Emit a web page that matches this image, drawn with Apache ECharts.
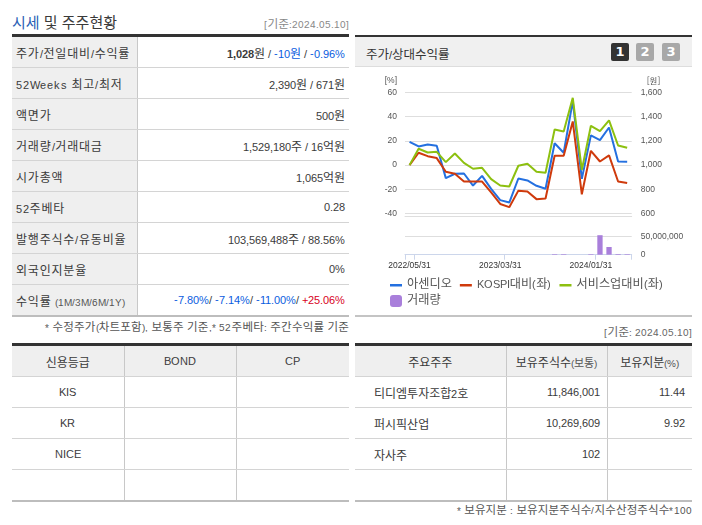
<!DOCTYPE html>
<html lang="ko"><head><meta charset="utf-8">
<script src="https://cdn.jsdelivr.net/npm/echarts@6/dist/echarts.min.js"></script>
<style>
@font-face{font-family:"LT";src:local("Liberation Sans");size-adjust:88%;unicode-range:U+20-7F}
@font-face{font-family:"LT";font-weight:bold;src:local("Liberation Sans Bold");size-adjust:88%;unicode-range:U+20-7F}
html,body{margin:0;padding:0;background:#fff;width:702px;height:525px;overflow:hidden}
body{font-family:"LT","Noto Sans CJK KR",sans-serif;font-size:12px;color:#3a3a3a;position:relative}
.abs{position:absolute;white-space:nowrap}
table{position:absolute;border-collapse:collapse;table-layout:fixed;border-top:3px solid #333;border-bottom:2px solid #bdbdbd}
td,th{height:30px;padding:0;border-bottom:1px solid #d4d4d4;font-weight:normal;overflow:hidden;white-space:nowrap;box-sizing:content-box}
tr:last-child td{border-bottom:none}
th,.lab{background:#efefef}
.lab{letter-spacing:.8px}
.v{border-left:1px solid #c8c8c8}
.blue{color:#0a5ce0}.red{color:#d8001c}
.small{font-size:11px;color:#555;letter-spacing:0}
.btn{position:absolute;top:43px;width:18px;height:18px;border-radius:2px;background:#a8a8a8;color:#fff;font:bold 13px/18px "DejaVu Sans";text-align:center}
</style></head><body>
<div class="abs" style="left:12px;top:11px;font-size:15px;font-family:'Noto Sans CJK KR'"><span style="color:#2a5fb5">시세</span> 및 주주현황</div>
<div class="abs" style="right:353px;top:14px;font-size:11.7px;color:#888">[기준:2024.05.10]</div>
<table id="t1" style="left:12px;top:34px;width:337px"></table>
<div class="abs" style="right:353px;top:318px;font-size:11.5px;letter-spacing:.2px;color:#555">* 수정주가(차트포함), 보통주 기준,* 52주베타: 주간수익률 기준</div>
<table id="t2" style="left:12px;top:343px;width:337px"></table>
<div style="position:absolute;left:355px;top:35px;width:337px;height:32px;background:#f0f0f0;border-top:2px solid #333;border-bottom:1px solid #ddd;box-sizing:border-box"></div>
<div class="abs" style="left:366px;top:44px;font-size:12.5px;color:#333">주가/상대수익률</div>
<div class="btn" style="left:611px;background:#333">1</div><div class="btn" style="left:636px">2</div><div class="btn" style="left:662px">3</div>
<div id="c" style="position:absolute;left:355px;top:68px;width:337px;height:247px"></div>
<div style="position:absolute;left:355px;top:315px;width:337px;height:2px;background:#c4c4c4"></div>
<div class="abs" style="right:10px;top:322px;font-size:11.7px;color:#666">[기준: 2024.05.10]</div>
<table id="t3" style="left:355px;top:343px;width:337px"></table>
<div class="abs" style="right:10px;top:501px;font-size:11.5px;letter-spacing:.13px;color:#555">* 보유지분 : 보유지분주식수/지수산정주식수*100</div>
<script>
// ---- chart data ----
const dates=["2022/05/31","2022/06/30","2022/07/31","2022/08/31","2022/09/30","2022/10/31","2022/11/30","2022/12/31","2023/01/31","2023/02/28","2023/03/31","2023/04/30","2023/05/31","2023/06/30","2023/07/31","2023/08/31","2023/09/30","2023/10/31","2023/11/30","2023/12/31","2024/01/31","2024/02/29","2024/03/31","2024/04/30","2024/05/31"];
const price=[1192,1154,1170,1160,893,929,931,832,912,805,712,692,890,874,830,805,1180,1102,1527,887,1245,1206,1310,1030,1028];
const kospiRel=[0,10.2,7.4,5.8,-5.5,-7.1,-13.5,-13.5,-13.5,-22.5,-32,-34.6,-21,-21.7,-28,-27.5,7.7,7.7,36,-24,11.8,3,8,-13.5,-14.8];
const serviceRel=[0,13.5,10.4,11,2.5,9.6,1.9,-3,-2.2,-11.5,-16.8,-17.6,-0.5,1.1,-5.5,-6.3,29.4,27.7,55.5,-4,32.4,28,36.8,16.2,14.3];
const volume=[0,0,0,0,0,0,0,0,0,0,0,0,0,0,0,0,1500000,1500000,0,0,1500000,53000000,21000000,1800000,1529180];
const leftTicks=[-40,60,20], rightTicks=[600,1600,200];
// ---- table data ----
const summaryRows=[
["주가/전일대비/수익률",'<b>1,028</b>원 / <span class="blue">-10원</span> / <span class="blue">-0.96%</span>'],
["52Weeks 최고/최저","2,390원 / 671원"],
["액면가","500원"],
["거래량/거래대금","1,529,180주 / 16억원"],
["시가총액","1,065억원"],
["52주베타","0.28"],
["발행주식수/유동비율","103,569,488주 / 88.56%"],
["외국인지분율","0%"],
['수익률 <span class="small">(1M/3M/6M/1Y)</span>','<span class="blue">-7.80%</span>/ <span class="blue">-7.14%</span>/ <span class="blue">-11.00%</span>/ <span class="red">+25.06%</span>']];
const creditHead=["신용등급","BOND","CP"];
const creditRows=[["KIS","",""],["KR","",""],["NICE","",""],["","",""]];
const holderHead=["주요주주",'보유주식수<span class="small">(보통)</span>','보유지분<span class="small">(%)</span>'];
const holderRows=[["티디엠투자조합2호","11,846,001","11.44"],["퍼시픽산업","10,269,609","9.92"],["자사주","102",""],["","",""]];

document.getElementById('t1').innerHTML='<colgroup><col style="width:125px"><col></colgroup>'+summaryRows.map(r=>
 `<tr><td class="lab" style="padding-left:4px;width:121px">${r[0]}</td><td class="v" style="text-align:right;padding-right:4px">${r[1]}</td></tr>`).join('');
document.getElementById('t2').innerHTML='<colgroup><col style="width:112px"><col style="width:112px"><col></colgroup>'+
 '<tr>'+creditHead.map((h,i)=>`<th class="${i?'v':''}">${h}</th>`).join('')+'</tr>'+
 creditRows.map(r=>'<tr>'+r.map((c,i)=>`<td class="${i?'v':''}" style="text-align:center">${c}</td>`).join('')+'</tr>').join('');
document.getElementById('t3').innerHTML='<colgroup><col style="width:151px"><col style="width:101px"><col></colgroup>'+
 '<tr>'+holderHead.map((h,i)=>`<th class="${i?'v':''}">${h}</th>`).join('')+'</tr>'+
 holderRows.map(r=>'<tr>'+r.map((c,i)=>`<td class="${i?'v':''}" style="text-align:${i?'right':'left'};padding:0 ${i?'7px':'0'} 0 ${i?'0':'19px'}">${c}</td>`).join('')+'</tr>').join('');

const gridCol='#dedede', axisCol='#ccd6eb', labCol='#555', narrow='Liberation Sans';
const lab={color:labCol,fontFamily:narrow,fontSize:8.5};
const chart=echarts.init(document.getElementById('c'),null,{renderer:'canvas'});
const commas=v=>String(v).replace(/\B(?=(\d{3})+$)/g,',');
const lineIcon='path://M0 0L0.01 0Z M0 5L12 5L12 7.4L0 7.4Z M0 12L0.01 12Z';
const leg={padding:0,itemWidth:12,itemHeight:12,itemGap:8,textStyle:{fontFamily:'LT, "Noto Sans CJK KR"',fontSize:12.2,color:'#555'}};
function draw(){chart.setOption({
 animation:false,
 grid:[{left:50,right:60.3,top:24.3,height:121.4},{left:50,right:60.3,top:166.46,height:20.24}],
 legend:[
  {...leg,left:35,top:211,data:[{name:'아센디오',icon:lineIcon},{name:'KOSPI대비(좌)',icon:lineIcon},{name:'서비스업대비(좌)',icon:lineIcon}]},
  {...leg,left:35,top:227,data:[{name:'거래량',icon:'roundRect'}]}],
 xAxis:[
  {type:'category',gridIndex:0,data:dates,offset:2.3,axisLine:{onZero:false,lineStyle:{color:gridCol}},axisTick:{show:false},axisLabel:{show:false}},
  {type:'category',gridIndex:1,data:dates,axisLine:{onZero:false,lineStyle:{color:axisCol}},
   axisTick:{show:true,length:5,lineStyle:{color:axisCol},interval:i=>i===0||i%10===1},
   axisLabel:{...lab,color:'#333',margin:6,interval:i=>i%10===0}}],
 yAxis:[
  {type:'value',gridIndex:0,min:leftTicks[0],max:leftTicks[1],interval:leftTicks[2],name:'[%]',nameLocation:'end',nameGap:7,
   nameTextStyle:{...lab,align:'right',padding:[0,8,0,0]},axisLine:{show:false},axisTick:{show:false},axisLabel:{...lab,margin:8,padding:[2,0,0,0]},splitLine:{lineStyle:{color:gridCol}}},
  {type:'value',gridIndex:0,position:'right',min:rightTicks[0],max:rightTicks[1],interval:rightTicks[2],name:'[원]',nameLocation:'end',nameGap:7,
   nameTextStyle:{...lab,fontFamily:'"Noto Sans CJK KR"',align:'left',padding:[0,0,0,15]},axisLine:{show:false},axisTick:{show:false},axisLabel:{...lab,margin:9,padding:[2,0,0,0],formatter:commas},splitLine:{show:false}},
  {type:'value',gridIndex:1,position:'right',min:0,max:55000000,interval:50000000,axisLine:{show:false},axisTick:{show:false},
   axisLabel:{...lab,margin:9,padding:[2,0,0,0],showMaxLabel:false,formatter:commas},splitLine:{showMaxLine:false,lineStyle:{color:gridCol}}}],
 series:[
  {name:'아센디오',type:'line',xAxisIndex:0,yAxisIndex:1,data:price,symbol:'none',lineStyle:{width:2,color:'#2470e0'},itemStyle:{color:'#2470e0'}},
  {name:'KOSPI대비(좌)',type:'line',xAxisIndex:0,yAxisIndex:0,data:kospiRel,symbol:'none',lineStyle:{width:2,color:'#cf3a0c'},itemStyle:{color:'#cf3a0c'}},
  {name:'서비스업대비(좌)',type:'line',xAxisIndex:0,yAxisIndex:0,data:serviceRel,symbol:'none',lineStyle:{width:2,color:'#8dc010'},itemStyle:{color:'#8dc010'}},
  {name:'거래량',type:'bar',xAxisIndex:1,yAxisIndex:2,data:volume,barWidth:5.3,itemStyle:{color:'#a97fdb'}}]
},true);}
draw();
document.fonts.load('12px LT').then(draw);
</script></body></html>
